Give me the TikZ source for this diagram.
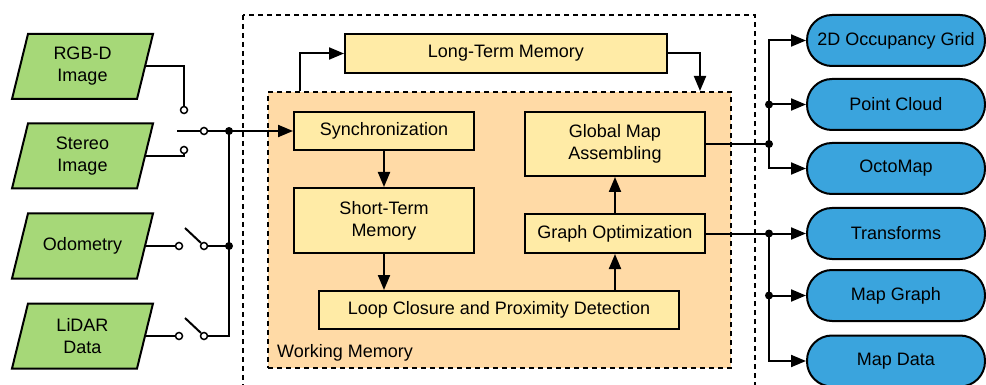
\documentclass[tikz,border=0pt]{standalone}
\usepackage{fontspec}
\setmainfont{Liberation Sans}
\usetikzlibrary{arrows.meta}

\definecolor{ingreen}{RGB}{166,216,120}
\definecolor{boxyellow}{RGB}{255,235,166}
\definecolor{wmorange}{RGB}{255,218,166}
\definecolor{outblue}{RGB}{58,164,221}

\begin{document}
\begin{tikzpicture}[x=1pt,y=-1pt,
  every node/.style={font=\fontsize{18}{22}\selectfont, align=center, inner sep=0pt},
  lw/.style={line width=2pt},
  procbox/.style={draw, lw, fill=boxyellow, rectangle},
  inbox/.style={minimum width=125pt, minimum height=65pt},
  inshape/.style={draw, lw, fill=ingreen, line join=miter},
  outbox/.style={draw, lw, fill=outblue, rectangle, rounded corners=25pt,
                 minimum width=178pt, minimum height=51pt},
  arr/.style={lw, -{Triangle[length=15pt,width=12pt]}},
  contact/.style={circle, draw, line width=1.5pt, fill=white, minimum size=7pt},
  junction/.style={circle, fill=black, minimum size=8pt},
  framebox/.style={lw, dash pattern=on 5pt off 4pt},
]
\useasboundingbox (0,0) rectangle (986,385);

% outer frame of the mapping core
\draw[framebox] (243,15) rectangle (755,395);

% working memory region
\node[draw, framebox, fill=wmorange, minimum width=463pt, minimum height=276pt]
  (wm) at (499.5,230) {};
\node[anchor=base west] (wmlabel) at (277,357) {Working Memory};

% processing blocks
\node[procbox, minimum width=322pt, minimum height=39pt] (ltm)  at (506,53.5) {Long-Term Memory};
\node[procbox, minimum width=180pt, minimum height=38pt] (sync) at (384,131)  {Synchronization};
\node[procbox, minimum width=180pt, minimum height=65pt] (stm)  at (384,220.5) {Short-Term\\Memory};
\node[procbox, minimum width=360pt, minimum height=38pt] (loop) at (499,310)  {Loop Closure and Proximity Detection};
\node[procbox, minimum width=180pt, minimum height=39pt] (gopt) at (615,233.5) {Graph Optimization};
\node[procbox, minimum width=180pt, minimum height=64pt] (gma)  at (615,144)  {Global Map\\Assembling};

% sensor inputs (parallelograms)
\path[inshape] (82.5,66.5) ++(-70.5,32.5) -- ++(16,-65) -- ++(125,0) -- ++(-16,65) -- cycle;
\node[inbox] (rgbd) at (82.5,66.5) {RGB-D\\Image};
\path[inshape] (82.5,156) ++(-70.5,32.5) -- ++(16,-65) -- ++(125,0) -- ++(-16,65) -- cycle;
\node[inbox] (stereo) at (82.5,156) {Stereo\\Image};
\path[inshape] (82.5,246) ++(-70.5,32.5) -- ++(16,-65) -- ++(125,0) -- ++(-16,65) -- cycle;
\node[inbox] (odo) at (82.5,246) {Odometry};
\path[inshape] (82.5,336) ++(-70.5,32.5) -- ++(16,-65) -- ++(125,0) -- ++(-16,65) -- cycle;
\node[inbox] (lidar) at (82.5,336) {LiDAR\\Data};

% outputs
\node[outbox] (occ)  at (896,40.5)  {2D Occupancy Grid};
\node[outbox] (pc)   at (896,104.5) {Point Cloud};
\node[outbox] (octo) at (896,168.5) {OctoMap};
\node[outbox] (tf)   at (896,233.5) {Transforms};
\node[outbox] (mg)   at (896,295.5) {Map Graph};
\node[outbox] (md)   at (896,361)   {Map Data};

% switch contacts and junctions
\node[contact] (c1) at (184,110) {};
\node[contact] (c2) at (184,150) {};
\node[contact] (c0) at (204,131) {};
\node[contact] (o1) at (179,246) {};
\node[contact] (o2) at (204,246) {};
\node[contact] (l1) at (179,336) {};
\node[contact] (l2) at (204,336) {};
\coordinate (bladeS) at (177,131);
\coordinate (bladeO) at (185,228);
\coordinate (bladeL) at (185,318);
\node[junction] (j1) at (229,131) {};
\node[junction] (j2) at (229,246) {};

\node[junction] (jm1) at (769,144) {};
\node[junction] (jm2) at (769,104.5) {};
\node[junction] (jm3) at (769,233.5) {};
\node[junction] (jm4) at (769,295.5) {};

\coordinate (lup) at (300,0);
\coordinate (ldn) at (700,0);

% input wiring
\draw[lw] (rgbd.east) -| (c1.north);
\draw[lw] (stereo.east) -| (c2.south);
\draw[lw] (bladeS) -- (c0.west);
\draw[arr] (c0.east) -- (sync.west);
\draw[lw] (odo.east) -- (o1.west);
\draw[lw] (bladeO) -- (o2.north west);
\draw[lw] (o2.east) -- (j2.center);
\draw[lw] (lidar.east) -- (l1.west);
\draw[lw] (bladeL) -- (l2.north west);
\draw[lw] (l2.east) -| (j1.center);

% memory flow
\draw[arr] (wm.north -| lup) |- (ltm.west);
\draw[arr] (ltm.east) -| (wm.north -| ldn);
\draw[arr] (sync.south) -- (stm.north);
\draw[arr] (stm.south) -- (stm.south |- loop.north);
\draw[arr] (loop.north -| gopt.south) -- (gopt.south);
\draw[arr] (gopt.north) -- (gma.south);

% output wiring
\draw[arr] (gma.east) -- (jm1.center) |- (occ.west);
\draw[arr] (jm1.center) |- (octo.west);
\draw[arr] (jm2.center) -- (pc.west);
\draw[arr] (gopt.east) -- (tf.west);
\draw[arr] (jm3.center) |- (md.west);
\draw[arr] (jm4.center) -- (mg.west);
\end{tikzpicture}
\end{document}
